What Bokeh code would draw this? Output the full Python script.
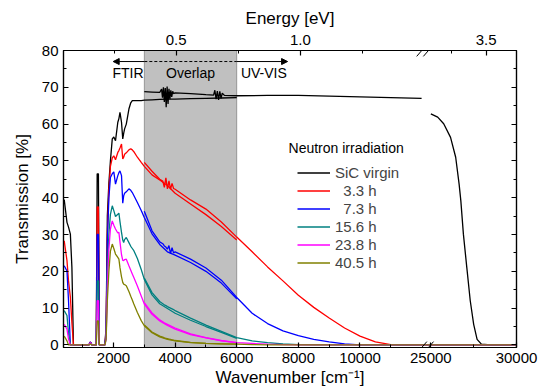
from bokeh.plotting import figure
from bokeh.models import (Range1d, LinearAxis, FixedTicker, SingleIntervalTicker,
                          BoxAnnotation, Arrow, NormalHead, Label, Legend, LegendItem,
                          CustomJSTickFormatter)
from bokeh.embed import file_html
from bokeh.resources import INLINE

# ---------------- data (wavenumber in cm^-1, transmission in %) ----------------
ftir_wn = [400, 490, 540, 600, 650, 700, 760, 1200, 1250, 1300, 1440, 1470, 1510, 1540,
           1720, 1760, 1800, 1850, 1900, 1960, 2010, 2065, 2140, 2175, 2210, 2260, 2300,
           2330, 2360, 2415, 2500, 2560, 2610, 2660, 2775, 2900, 3000, 3250, 3500, 3750,
           4000, 4500, 5000, 5500, 6000]

black_ftir = [39.5, 33.3, 32.0, 30.1, 21.0, 0, 0, 0, 0.8, 0, 0, 46.5, 46.5, 0,
              0, 5, 35, 44, 50, 56, 56.5, 55.5, 60.5, 61.5, 63.2, 60.5, 56.0,
              57.5, 58.7, 60.0, 64.1, 65.8, 66.4, 66.4, 66.4, 66.4, 66.5, 66.6, 66.7, 66.8,
              66.8, 66.9, 67.0, 67.1, 67.2]
red_ftir = [28.3, 22.9, 17.4, 13.0, 6.0, 0, 0, 0, 0.8, 0, 0, 37.5, 37.5, 0,
            0, 4, 30, 42, 48.5, 50.8, 51.4, 50.3, 52.3, 52.8, 53.5, 54.6, 50.5,
            51.0, 51.8, 52.2, 53.0, 53.3, 53.0, 52.5, 51.0, 49.6, 48.5, 46.2, 44.8, 43.3,
            41.2, 38.3, 35.4, 32.2, 28.5]
blue_ftir = [21.5, 20.1, 12.0, 0, 0, 0, 0, 0, 0.8, 0, 0, 30.0, 30.0, 0,
             0, 3, 28, 40, 45.5, 46.5, 47.0, 43.7, 46.0, 46.8, 47.3, 46.0, 38.5,
             40.5, 41.2, 41.6, 42.4, 42.0, 41.4, 40.6, 38.7, 36.5, 34.6, 30.2, 27.3, 25.3,
             24.4, 22.4, 20.0, 16.8, 12.5]
teal_ftir = [9.3, 8.0, 3.2, 0, 0, 0, 0, 0, 0.5, 0, 0, 17.4, 17.4, 0,
             0, 2, 20, 30, 35.5, 37.8, 36.5, 34.9, 35.5, 35.8, 33.5, 30.6, 28.5,
             27.8, 28.6, 29.2, 27.8, 26.8, 26.2, 25.6, 23.5, 20.5, 17.8, 13.6, 11.2, 9.9,
             8.6, 6.7, 5.0, 3.4, 1.8]
magenta_ftir = [5.6, 4.3, 1.6, 0, 0, 0, 0, 0, 0.6, 0, 0, 12.0, 12.0, 0,
                0, 1.5, 16, 26, 31.5, 33.7, 32.5, 31.5, 30.4, 30.6, 28.0, 24.5, 23.0,
                22.9, 23.2, 23.3, 21.5, 20.3, 19.3, 18.3, 16.0, 13.3, 11.1, 8.3, 6.5, 5.3,
                4.3, 2.8, 1.9, 1.1, 0.6]
olive_ftir = [2.4, 1.1, 0, 0, 0, 0, 0, 0, 0.3, 0, 0, 6.5, 6.5, 0,
              0, 1.5, 12, 20, 25.5, 27.4, 26.2, 24.7, 23.8, 23.3, 21.0, 18.5, 17.0,
              16.5, 16.4, 16.1, 14.5, 13.2, 12.2, 11.1, 8.8, 6.6, 5.2, 3.3, 2.2, 1.5,
              1.1, 0.6, 0.4, 0.3, 0.2]

uv_wn = [3000, 3250, 3500, 3600, 3650, 3700, 3750, 3800, 3850, 3900, 3950, 4000,
         4500, 5000, 5500, 6000, 6500, 7000, 7500, 8000, 8500, 9000, 9500, 10000,
         10500, 11000, 11500, 12000, 25000, 30000]
red_uv = [49.6, 47.2, 45.0, 44.5, 42.8, 45.4, 42.4, 44.6, 42.3, 43.9, 42.5, 42.3,
          39.4, 36.9, 33.4, 29.3, 25.3, 21.2, 17.4, 13.5, 10.2, 7.3, 4.6, 2.4,
          0.8, 0.1, 0, 0, 0, 0]
blue_uv = [36.3, 31.0, 28.0, 27.5, 26.9, 26.6, 26.0, 27.0, 24.8, 26.4, 25.0, 25.3,
           23.3, 20.9, 17.6, 12.9, 8.6, 5.8, 3.8, 2.5, 1.5, 0.8, 0.3, 0,
           0, 0, 0, 0, 0, 0]
teal_uv = [18.2, 14.2, 11.8, 11.2, 10.9, 10.7, 10.4, 10.2, 10.0, 9.8, 9.6, 9.3,
           7.3, 5.4, 3.7, 2.0, 1.1, 0.6, 0.3, 0.1, 0, 0, 0, 0,
           0, 0, 0, 0, 0, 0]
magenta_uv = [11.5, 8.7, 6.8, 6.3, 6.0, 5.8, 5.6, 5.4, 5.2, 5.0, 4.8, 4.6,
              3.0, 2.0, 1.2, 0.6, 0.4, 0.2, 0.1, 0, 0, 0, 0, 0,
              0, 0, 0, 0, 0, 0]
olive_uv = [5.4, 3.5, 2.4, 2.1, 1.9, 1.8, 1.7, 1.6, 1.5, 1.4, 1.3, 1.2,
            0.7, 0.4, 0.3, 0.2, 0.1, 0, 0, 0, 0, 0, 0, 0,
            0, 0, 0, 0, 0, 0]

black_uv_wn = [3000, 3250, 3500, 3560, 3590, 3620, 3650, 3680, 3710, 3740, 3770, 3800,
               3830, 3860, 3890, 3920, 3950, 4000, 4500, 5000, 5250, 5290, 5330, 5370,
               5410, 5450, 5490, 5530, 5600, 6000, 7000, 8000, 9000, 10000, 11000, 12000]
black_uv = [68.8, 68.7, 68.6, 69.5, 67.2, 70.0, 66.0, 69.8, 64.6, 70.2, 65.5, 69.6,
            66.8, 69.2, 67.4, 68.9, 68.3, 68.5, 68.3, 68.0, 67.9, 69.2, 66.8, 69.0,
            66.6, 68.9, 67.0, 68.4, 67.8, 67.7, 67.8, 67.8, 67.6, 67.4, 67.2, 67.0]
black_far_wn = [25000, 25400, 25750, 26150, 26450, 26650, 26750, 26900, 27100, 27300,
                27500, 27700, 27950, 28500, 30000]
black_far = [62.8, 61.9, 60.1, 56.4, 51.0, 43.7, 39.2, 30.1, 21.0, 12.0,
             5.6, 1.5, 0.2, 0.0, 0.0]

series_labels = ["SiC virgin", "\u20073.3 h", "\u20077.3 h", "15.6 h", "23.8 h", "40.5 h"]
series_colors = ["#000000", "#ff0000", "#0000ff", "#008080", "#ff00ff", "#808000"]

wn_major = [2000, 4000, 6000, 8000, 10000, 25000, 30000]
wn_minor = [1000, 3000, 5000, 7000, 9000, 11000, 27500]
ev_major = [0.5, 1.0, 3.5]
ev_minor = [0.25, 0.75, 1.25, 3.25]
EV_TO_WN = 8065.54

for a, b in [(ftir_wn, black_ftir), (ftir_wn, red_ftir), (ftir_wn, blue_ftir),
             (ftir_wn, teal_ftir), (ftir_wn, magenta_ftir), (ftir_wn, olive_ftir),
             (uv_wn, red_uv), (uv_wn, blue_uv), (uv_wn, teal_uv), (uv_wn, magenta_uv),
             (uv_wn, olive_uv), (black_uv_wn, black_uv), (black_far_wn, black_far)]:
    assert len(a) == len(b), (len(a), len(b))

# ---------------- broken x axis mapping ----------------
SEG_END = 12000
R0 = 25000
U_R0 = 12300


def to_u(w):
    if w <= SEG_END:
        return float(w)
    if w >= R0:
        return U_R0 + (w - R0) * 556 / 1000
    return None


def us(ws):
    return [to_u(w) for w in ws]


FONT = "Liberation Sans"
X0, X1 = 377, to_u(30000)

p = figure(width=543, height=391, x_range=Range1d(X0, X1), y_range=Range1d(-0.7, 80),
           output_backend="svg", toolbar_location=None,
           min_border_left=63, min_border_right=27, min_border_top=50, min_border_bottom=44)
p.grid.visible = False
p.outline_line_color = "black"
p.outline_line_width = 1.2
p.background_fill_color = "white"
p.border_fill_color = "white"

# shaded overlap region
p.add_layout(BoxAnnotation(left=3000, right=6000, fill_color="#c0c0c0", fill_alpha=1.0,
                           line_color="black", line_width=1, level="underlay"))

LW = 1.3
rends = []
ftir_sets = [black_ftir, red_ftir, blue_ftir, teal_ftir, magenta_ftir, olive_ftir]
uv_sets = [None, red_uv, blue_uv, teal_uv, magenta_uv, olive_uv]
for i, c in enumerate(series_colors):
    r = p.line(us(ftir_wn), ftir_sets[i], line_color=c, line_width=LW)
    rends.append(r)
    if i == 0:
        p.line(us(black_uv_wn), black_uv, line_color=c, line_width=LW)
        p.line(us(black_far_wn), black_far, line_color=c, line_width=LW)
    else:
        p.line(us(uv_wn), uv_sets[i], line_color=c, line_width=LW)


def style(ax):
    ax.axis_line_color = "black"
    ax.axis_line_width = 1.2
    ax.major_tick_line_color = "black"
    ax.major_tick_line_width = 1.2
    ax.minor_tick_line_color = "black"
    ax.major_tick_in = 5
    ax.major_tick_out = 0
    ax.minor_tick_in = 3
    ax.minor_tick_out = 0
    ax.major_label_text_font = FONT
    ax.major_label_text_font_size = "15px"
    ax.major_label_text_color = "black"
    ax.axis_label_text_font = FONT
    ax.axis_label_text_font_size = "17px"
    ax.axis_label_text_font_style = "normal"
    ax.axis_label_text_color = "black"


# bottom axis
bx = p.xaxis[0]
bt = [to_u(w) for w in wn_major]
bx.ticker = FixedTicker(ticks=bt, minor_ticks=[to_u(w) for w in wn_minor])
bx.major_label_overrides = {u: str(w) for u, w in zip(bt, wn_major)}
bx.axis_label = "Wavenumber [cm\u207b\u00b9]"
style(bx)
bx.major_label_standoff = 5
bx.axis_label_standoff = 2

# left axis
ly = p.yaxis[0]
ly.ticker = SingleIntervalTicker(interval=10, num_minor_ticks=2)
ly.axis_label = "Transmission [%]"
style(ly)
ly.major_label_standoff = 5
ly.axis_label_standoff = 7

# right axis (no labels)
ry = LinearAxis(ticker=SingleIntervalTicker(interval=10, num_minor_ticks=2),
                formatter=CustomJSTickFormatter(code="return ''"))
style(ry)
p.add_layout(ry, "right")

# top axis: energy
tt = [to_u(e * EV_TO_WN) for e in ev_major]
tx = LinearAxis(ticker=FixedTicker(ticks=tt, minor_ticks=[to_u(e * EV_TO_WN) for e in ev_minor]),
                axis_label="Energy [eV]")
tx.major_label_overrides = {u: f"{e:.1f}" for u, e in zip(tt, ev_major)}
style(tx)
tx.major_label_standoff = 6
tx.axis_label_standoff = 4
p.add_layout(tx, "above")

# measurement-range arrows
ARROW_Y = 77
head = dict(size=6, fill_color="black", line_color="black", line_width=1)
p.add_layout(Arrow(end=NormalHead(**head), x_start=3000, y_start=ARROW_Y, x_end=1990,
                   y_end=ARROW_Y, line_width=1, line_color="black"))
p.add_layout(Arrow(end=NormalHead(**head), x_start=6000, y_start=ARROW_Y, x_end=7650,
                   y_end=ARROW_Y, line_width=1, line_color="black"))
p.add_layout(Arrow(end=None, x_start=3000, y_start=ARROW_Y, x_end=6000, y_end=ARROW_Y,
                   line_width=1, line_color="black", line_dash="3 2"))

for txt, xx in [("FTIR", 2470), ("Overlap", 4500), ("UV-VIS", 6880)]:
    p.add_layout(Label(x=xx, y=73.8, text=txt, text_align="center", text_baseline="middle",
                       text_font=FONT, text_font_size="14px", text_color="black"))

# axis-break marks
for yy in (-0.7, 80):
    for dx in (0, 217):
        xa = 11840 + dx
        p.add_layout(Arrow(end=None, x_start=xa, y_start=yy - 1.6, x_end=xa + 330,
                           y_end=yy + 1.6, line_width=1, line_color="black"))

# legend
p.add_layout(Label(x=9550, y=53.4, text="Neutron irradiation", text_align="center",
                   text_baseline="middle", text_font=FONT, text_font_size="14px",
                   text_color="black"))
legend = Legend(items=[LegendItem(label=l, renderers=[r]) for l, r in zip(series_labels, rends)],
                location=(234, 76), glyph_width=33, glyph_height=17, label_height=17,
                spacing=1, label_standoff=5, padding=0, margin=0,
                border_line_alpha=0, background_fill_alpha=0,
                label_text_font=FONT, label_text_font_size="15px")
p.add_layout(legend)

open("out.html", "w").write(file_html(p, INLINE))
